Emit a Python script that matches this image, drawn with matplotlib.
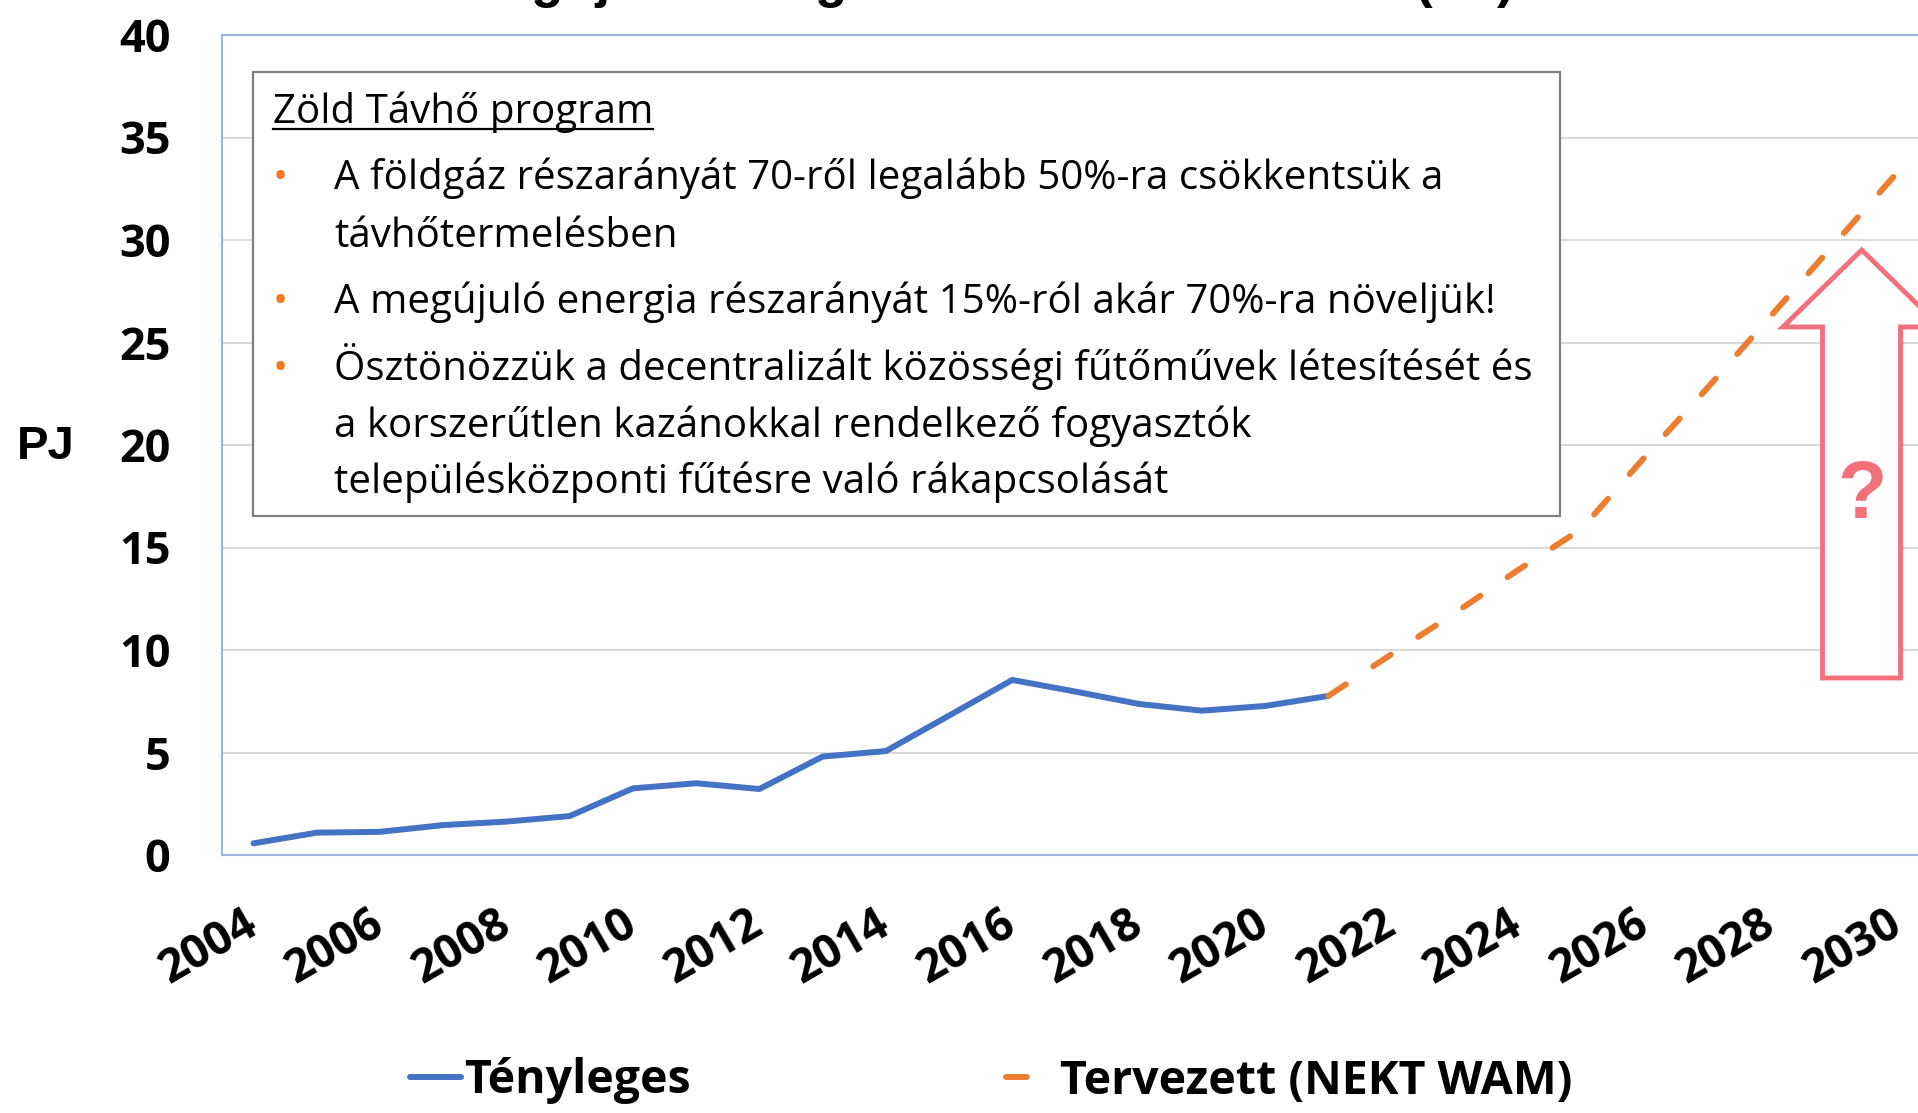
import matplotlib
matplotlib.use('Agg')
from matplotlib import pyplot as plt
from matplotlib.lines import Line2D
from matplotlib.patches import Rectangle, Polygon

# data (PJ)
years_actual = list(range(2004, 2022))
actual = [0.57, 1.09, 1.13, 1.46, 1.63, 1.90, 3.25, 3.50, 3.22, 4.80,
          5.07, 6.80, 8.54, 7.97, 7.37, 7.04, 7.27, 7.76]
years_plan = list(range(2021, 2031))
plan = [7.76, 9.8, 11.8, 13.9, 15.9, 19.4, 22.8, 26.3, 29.8, 33.3]
xtick_years = list(range(2004, 2031, 2))
ytick_vals = list(range(0, 41, 5))

chart_title = 'Megújuló energia a távhőtermelésben (PJ)'
box_title = 'Zöld Távhő program'
box_lines = [
    (True, 'A földgáz részarányát 70-ről legalább 50%-ra csökkentsük a'),
    (False, 'távhőtermelésben'),
    (True, 'A megújuló energia részarányát 15%-ról akár 70%-ra növeljük!'),
    (True, 'Ösztönözzük a decentralizált közösségi fűtőművek létesítését és'),
    (False, 'a korszerűtlen kazánokkal rendelkező fogyasztók'),
    (False, 'településközponti fűtésre való rákapcsolását'),
]
legend_labels = ['Tényleges', 'Tervezett (NEKT WAM)']

BLUE = '#4472C4'
ORANGE = '#ED7D31'
RED = '#F2707A'
DASH = (3.5, 5.5)

W, H = 1918, 1113


def fx(px):
    return px / W


def fy(py):
    return 1 - py / H


fig = plt.figure(figsize=(W / 100, H / 100), dpi=100)
ax = fig.add_axes([fx(222), fy(855), (1929 - 222) / W, (855 - 35) / H])

ax.plot(years_actual, actual, color=BLUE, lw=4.3, solid_joinstyle='round',
        solid_capstyle='round', zorder=3)
ax.plot(years_plan, plan, color=ORANGE, lw=4.3, dashes=DASH,
        dash_capstyle='round', zorder=3)

ax.set_xlim(2003.5, 2030.5)
ax.set_ylim(0, 40)
ax.set_yticks(ytick_vals)
ax.set_yticklabels([str(v) for v in ytick_vals], fontfamily='Open Sans',
                   fontweight='bold', fontsize=32.5)
ax.set_xticks(xtick_years)
ax.set_xticklabels([str(y) for y in xtick_years], fontfamily='Open Sans',
                   fontweight='bold', fontsize=33, rotation=30, ha='right',
                   va='center', rotation_mode='anchor')
ax.tick_params(axis='both', length=0)
ax.tick_params(axis='y', pad=37)
ax.tick_params(axis='x', pad=47)
ax.grid(axis='y', color='#D9D9D9', lw=1.5)
ax.set_axisbelow(True)
for side in ['left', 'top', 'bottom', 'right']:
    ax.spines[side].set_color('#9DB3E0')
    ax.spines[side].set_linewidth(1.5)

# title sits mostly above the crop, only the descenders show
fig.text(fx(1515), fy(-3), chart_title, ha='right', va='baseline',
         fontfamily='Liberation Sans', fontweight='bold', fontsize=38)

fig.text(fx(17), fy(447), 'PJ', ha='left', va='center',
         fontfamily='Liberation Sans', fontweight='bold', fontsize=34)

# text box
box = Rectangle((fx(253), fy(516)), fx(1560) - fx(253), fy(72) - fy(516),
                transform=fig.transFigure, facecolor='white',
                edgecolor='#808080', lw=1.6, zorder=5)
fig.add_artist(box)
t = fig.text(fx(273), fy(123), box_title, ha='left', va='baseline',
             fontfamily='Open Sans', fontsize=29, zorder=6)
fig.canvas.draw()
bb = t.get_window_extent()
fig.add_artist(Line2D([fx(bb.x0), fx(bb.x1)], [fy(129), fy(129)],
                      transform=fig.transFigure, color='black', lw=1.6,
                      zorder=6))
baselines = [189, 247, 313, 380, 437, 493]
for (bullet, line), yb in zip(box_lines, baselines):
    if bullet:
        fig.text(fx(280), fy(yb), '•', ha='center', va='baseline',
                 fontfamily='Open Sans', fontsize=29, color='#F47920',
                 zorder=6)
    fig.text(fx(334), fy(yb), line, ha='left', va='baseline',
             fontfamily='Open Sans', fontsize=29, zorder=6)

# up arrow with question mark
arrow_px = [(1861.7, 250), (1782.8, 327), (1822.5, 327), (1822.5, 678),
            (1900.5, 678), (1900.5, 327), (1940.6, 327)]
arrow = Polygon([(fx(x), fy(y)) for x, y in arrow_px], closed=True,
                transform=fig.transFigure, facecolor='white',
                edgecolor=RED, lw=3.5, joinstyle='miter', zorder=4)
fig.add_artist(arrow)
fig.text(fx(1862), fy(497), '?', ha='center', va='center', color=RED,
         fontfamily='Liberation Sans', fontweight='bold', fontsize=58,
         zorder=6)

# legend
handles = [Line2D([], [], color=BLUE, lw=4.3, solid_capstyle='round'),
           Line2D([], [], color=ORANGE, lw=4.3, dashes=DASH,
                  dash_capstyle='round')]
fig.legend(handles, legend_labels, loc='center left',
           bbox_to_anchor=(fx(410), fy(1081)), ncol=2, frameon=False,
           borderpad=0, borderaxespad=0, handlelength=1.1,
           handletextpad=0.07, columnspacing=6.77,
           prop={'family': 'Open Sans', 'weight': 'bold', 'size': 33.5})

fig.savefig('out.png', dpi=100)
